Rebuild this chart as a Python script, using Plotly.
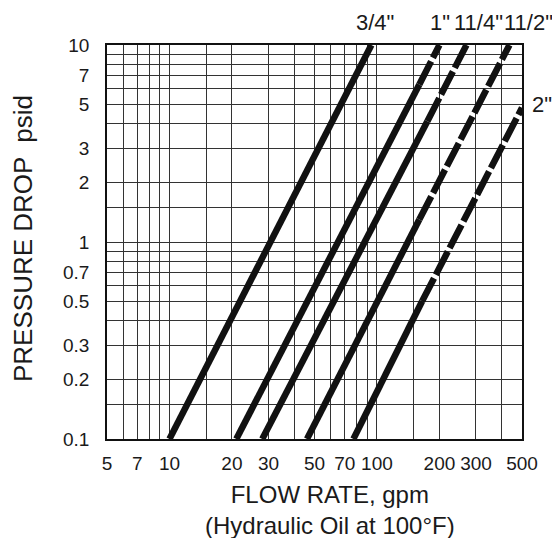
import plotly.graph_objects as go

# ---- data ----
sizes = ['3/4"', '1"', '11/4"', '11/2"', '2"']
flow_start = [10, 21, 28, 46, 77]
dp_start = [0.1, 0.1, 0.1, 0.1, 0.1]
flow_dash = [None, 160, 175, 160, 165]     # where the curve turns dashed
dp_dash = [None, 6.3, 4.1, 1.3, 0.5]
flow_end = [94, 200, 270, 435, 500]
dp_end = [10, 10, 10, 10, 4.8]

x_grid = [5, 6, 7, 8, 9, 10, 15, 20, 30, 40, 50, 60, 70, 80, 90, 100, 150, 200, 300, 400, 500]
x_labels = ["5", "", "7", "", "", "10", "", "20", "30", "", "50", "", "70", "", "", "100", "", "200", "300", "", "500"]
y_grid = [0.1, 0.15, 0.2, 0.3, 0.4, 0.5, 0.6, 0.7, 0.8, 0.9, 1, 1.5, 2, 3, 4, 5, 6, 7, 8, 9, 10]
y_labels = ["0.1", "", "0.2", "0.3", "", "0.5", "", "0.7", "", "", "1", "", "2", "3", "", "5", "", "7", "", "", "10"]

LINE = "#111111"
TXT = "#1a1a1a"
FONT = "Liberation Sans, Arial, sans-serif"

fig = go.Figure()
for i, name in enumerate(sizes):
    if flow_dash[i] is None:
        fig.add_trace(go.Scatter(x=[flow_start[i], flow_end[i]], y=[dp_start[i], dp_end[i]],
                                 mode="lines", line=dict(color=LINE, width=6.5), showlegend=False,
                                 hoverinfo="skip"))
    else:
        fig.add_trace(go.Scatter(x=[flow_start[i], flow_dash[i]], y=[dp_start[i], dp_dash[i]],
                                 mode="lines", line=dict(color=LINE, width=6.5), showlegend=False,
                                 hoverinfo="skip"))
        fig.add_trace(go.Scatter(x=[flow_dash[i], flow_end[i]], y=[dp_dash[i], dp_end[i]],
                                 mode="lines", line=dict(color=LINE, width=6.5, dash="26px,4px"),
                                 showlegend=False, hoverinfo="skip"))

# curve labels (pixel-derived paper positions)
label_pos = [(0.646, 1.058), (0.802, 1.058), (0.896, 1.058), (1.016, 1.058), (1.048, 0.850)]
for name, (px, py) in zip(sizes, label_pos):
    fig.add_annotation(text=name, x=px, y=py, xref="paper", yref="paper",
                       showarrow=False, xanchor="center", yanchor="middle",
                       font=dict(family=FONT, size=22, color=TXT))

fig.add_annotation(text="FLOW RATE, gpm<br>(Hydraulic Oil at 100°F)", x=0.537, y=-0.18,
                   xref="paper", yref="paper", showarrow=False, xanchor="center", yanchor="middle",
                   align="center", font=dict(family=FONT, size=24, color=TXT))
fig.add_annotation(text="PRESSURE DROP  psid", x=-0.202, y=0.508, xref="paper", yref="paper",
                   showarrow=False, xanchor="center", yanchor="middle", textangle=-90,
                   font=dict(family=FONT, size=26, color=TXT))

axis_common = dict(type="log", showgrid=True, gridcolor="#333333", gridwidth=1.3,
                   showline=True, linecolor="#111111", linewidth=1.6, mirror=True,
                   ticks="", zeroline=False, tickfont=dict(family=FONT, size=19, color=TXT))

fig.update_xaxes(range=[0.69897, 2.69897], tickmode="array", tickvals=x_grid, ticktext=x_labels,
                 ticklabelstandoff=6, **axis_common)
fig.update_yaxes(range=[-1, 1], tickmode="array", tickvals=y_grid, ticktext=y_labels,
                 ticklabelstandoff=12, **axis_common)

# page body has an 8px margin on every side: figure shrunk (no scrollbar) and
# margins offset so the plot area lands where the reference has it
fig.update_layout(width=544, height=530, margin=dict(l=99, r=30, t=37, b=99),
                  paper_bgcolor="white", plot_bgcolor="white", showlegend=False)

fig.write_html("out.html")
